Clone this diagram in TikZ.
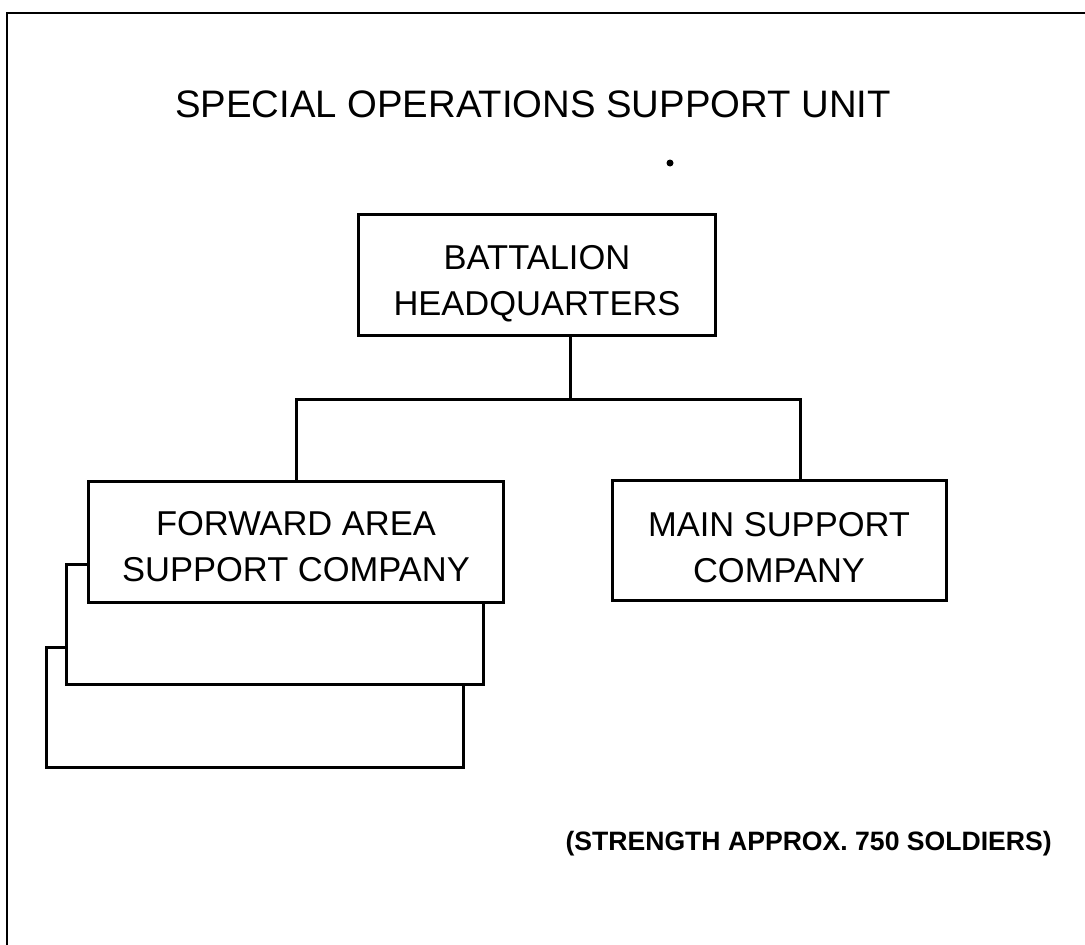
\documentclass[tikz,border=0pt]{standalone}
\usepackage{fontspec}
\setmainfont{Liberation Sans}
\newcommand{\tstrut}[1]{\rule{0pt}{#1}}
\begin{document}
\begin{tikzpicture}[x=1pt,y=-1pt,
  unitbox/.style={draw, line width=3pt, fill=white, align=center, inner sep=0pt,
    font=\fontsize{34.5}{46}\selectfont},
  conn/.style={line width=3pt},
  frame/.style={line width=2pt}]
\useasboundingbox (0,0) rectangle (1085,945);
% frame (top and left edges only)
\coordinate (ftl) at (7,13);
\coordinate (ftr) at (1085,13);
\coordinate (fbl) at (7,945);
\draw[frame] (ftr) -- (ftl) -- (fbl);
% title
\node[anchor=base, font=\fontsize{38.3}{46}\selectfont, inner sep=0pt] (title) at (533,117) {SPECIAL OPERATIONS SUPPORT UNIT};
% stray dot
\fill (670,163) circle (3.5);
% boxes
\node[unitbox, minimum width=357, minimum height=121] (bhq) at (537,275) {\tstrut{42pt}BATTALION\\HEADQUARTERS};
\node[unitbox, minimum width=417, minimum height=120] (fas3) at (255,707) {};
\node[unitbox, minimum width=417, minimum height=120] (fas2) at (275,624) {};
\node[unitbox, minimum width=415, minimum height=121] (fasc) at (296,542) {\tstrut{33pt}FORWARD AREA\\SUPPORT COMPANY};
\node[unitbox, minimum width=334, minimum height=120] (msc) at (779,540) {\tstrut{40pt}MAIN SUPPORT\\COMPANY};
% connectors
\coordinate (jc) at (570,399);
\coordinate (jr) at (800,399);
\draw[conn] (bhq.south -| jc) -- (jc);
\draw[conn] (fasc.north) |- (jr) -- (jr |- msc.north);
% note
\node[anchor=base east, font=\bfseries\fontsize{26.6}{32}\selectfont, inner sep=0pt] (note) at (1052,850) {(STRENGTH APPROX. 750 SOLDIERS)};
\end{tikzpicture}
\end{document}
